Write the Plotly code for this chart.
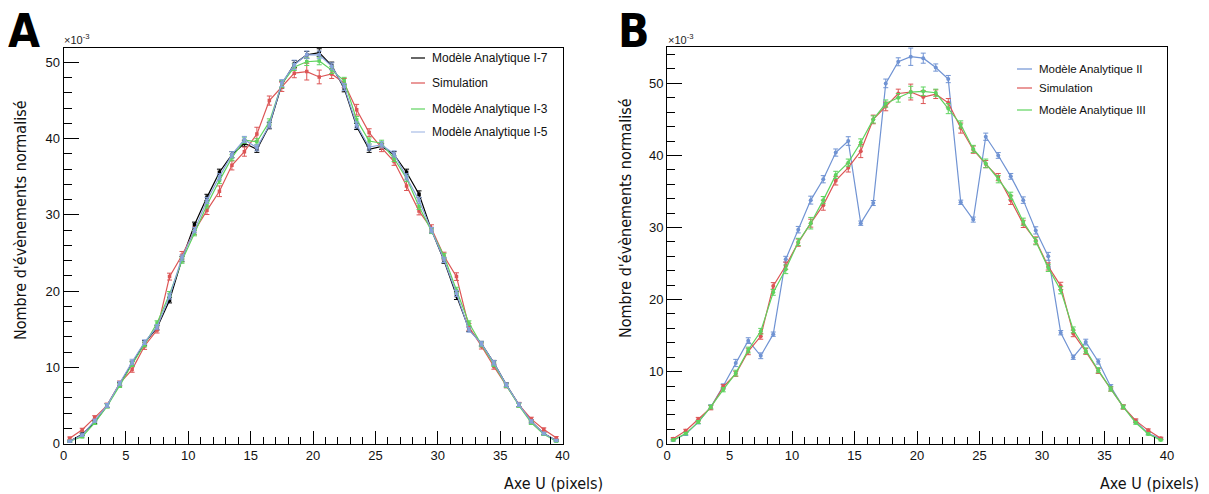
import plotly.graph_objects as go

# the page body has an 8px margin: the figure covers the window from (8, 8)
OFF = 8
W, H = 1209 - OFF, 494 - OFF

# ---------------- data ----------------
bins = [i + 0.5 for i in range(40)]

simulation = [0.7, 1.8, 3.4, 5.0, 7.9, 9.7, 12.8, 14.9, 21.9, 24.7,
              27.9, 30.6, 33.1, 36.5, 38.3, 40.6, 45.0, 46.8, 48.6, 48.8,
              48.1, 48.5, 47.3, 43.8, 40.8, 38.8, 37.0, 33.8, 30.5, 28.2,
              24.6, 21.9, 15.3, 12.8, 10.1, 7.6, 5.1, 3.2, 1.85, 0.75]
err_simulation = [0.15, 0.2, 0.25, 0.3, 0.3, 0.35, 0.45, 0.4, 0.45, 0.5,
                  0.5, 0.55, 0.7, 0.6, 0.6, 0.9, 0.6, 0.6, 0.6, 1.1,
                  0.9, 0.6, 0.6, 0.7, 0.5, 0.5, 0.5, 0.6, 0.5, 0.5,
                  0.5, 0.5, 0.45, 0.4, 0.35, 0.3, 0.3, 0.25, 0.2, 0.15]

model_I7 = [0.3, 1.2, 2.8, 5.0, 7.8, 10.5, 13.2, 15.2, 18.8, 24.2,
            28.7, 32.3, 35.6, 37.9, 39.4, 38.6, 41.7, 47.1, 49.8, 51.0,
            51.3, 49.6, 46.6, 41.6, 38.6, 39.0, 37.9, 35.6, 32.7, 28.0,
            24.0, 19.4, 15.0, 13.1, 10.6, 7.7, 5.1, 2.9, 1.3, 0.4]
err_I7 = [0.1, 0.15, 0.2, 0.25, 0.25, 0.3, 0.3, 0.3, 0.35, 0.35,
          0.35, 0.4, 0.4, 0.4, 0.4, 0.4, 0.4, 0.45, 0.45, 0.45,
          0.5, 0.45, 0.45, 0.4, 0.4, 0.4, 0.4, 0.4, 0.45, 0.35,
          0.35, 0.5, 0.3, 0.3, 0.3, 0.25, 0.25, 0.2, 0.15, 0.1]

model_I3 = [0.3, 0.9, 2.7, 4.9, 7.6, 10.4, 13.0, 15.8, 19.6, 24.0,
            27.6, 31.3, 34.5, 37.5, 39.8, 39.6, 42.2, 47.2, 49.4, 50.1,
            50.2, 49.0, 47.6, 42.5, 39.7, 39.4, 37.4, 34.8, 31.1, 27.9,
            24.6, 20.1, 15.8, 13.0, 10.4, 7.6, 5.0, 2.7, 1.2, 0.3]
err_I3 = [0.1, 0.15, 0.2, 0.25, 0.25, 0.3, 0.3, 0.3, 0.35, 0.35,
          0.35, 0.4, 0.4, 0.4, 0.4, 0.4, 0.4, 0.45, 0.45, 0.5,
          0.5, 0.45, 0.45, 0.4, 0.4, 0.4, 0.4, 0.4, 0.4, 0.35,
          0.35, 0.4, 0.3, 0.3, 0.3, 0.25, 0.25, 0.2, 0.15, 0.1]

model_I5 = [0.3, 1.1, 3.0, 5.0, 7.9, 10.7, 13.3, 15.3, 19.3, 24.4,
            28.0, 31.9, 35.0, 37.9, 39.9, 38.8, 41.8, 47.3, 49.7, 51.0,
            51.0, 49.5, 46.8, 41.8, 38.9, 39.2, 38.0, 35.0, 31.9, 28.0,
            24.1, 19.7, 14.9, 13.1, 10.6, 7.7, 5.1, 2.9, 1.3, 0.4]
err_I5 = [0.1, 0.15, 0.2, 0.25, 0.25, 0.35, 0.3, 0.3, 0.35, 0.35,
          0.35, 0.4, 0.4, 0.4, 0.4, 0.4, 0.4, 0.45, 0.6, 0.5,
          0.5, 0.45, 0.45, 0.4, 0.4, 0.4, 0.4, 0.4, 0.4, 0.35,
          0.35, 0.4, 0.3, 0.3, 0.3, 0.25, 0.25, 0.2, 0.15, 0.1]

model_II = [0.5, 1.35, 3.0, 5.1, 8.0, 11.2, 14.3, 12.2, 15.2, 25.6,
            29.7, 33.8, 36.7, 40.4, 42.0, 30.6, 33.4, 50.0, 53.0, 53.7,
            53.5, 52.2, 50.6, 33.5, 31.1, 42.6, 40.0, 37.1, 33.8, 29.6,
            26.0, 15.4, 12.0, 14.1, 11.4, 7.9, 5.1, 3.1, 1.4, 0.7]
err_II = [0.15, 0.2, 0.25, 0.3, 0.3, 0.5, 0.4, 0.4, 0.3, 0.4,
          0.45, 0.55, 0.5, 0.5, 0.6, 0.3, 0.35, 0.6, 0.55, 1.2,
          0.7, 0.5, 0.5, 0.3, 0.35, 0.5, 0.4, 0.4, 0.45, 0.5,
          0.55, 0.3, 0.3, 0.4, 0.35, 0.3, 0.25, 0.2, 0.15, 0.1]

model_III = [0.5, 1.4, 3.0, 5.1, 7.5, 9.8, 13.0, 15.6, 21.0, 24.2,
             28.0, 30.6, 33.8, 37.3, 39.0, 41.8, 45.0, 47.2, 48.0, 48.8,
             48.9, 48.7, 46.5, 44.3, 40.9, 38.9, 36.7, 34.4, 30.8, 28.1,
             24.4, 21.3, 15.8, 12.9, 10.2, 7.6, 5.1, 2.9, 1.35, 0.5]
err_III = [0.1, 0.15, 0.2, 0.25, 0.3, 0.4, 0.4, 0.4, 0.4, 0.6,
           0.5, 0.8, 0.5, 0.5, 0.5, 0.5, 0.5, 0.5, 0.6, 0.8,
           0.6, 0.5, 0.7, 0.5, 0.5, 0.6, 0.5, 0.5, 0.5, 0.5,
           0.5, 0.5, 0.4, 0.4, 0.35, 0.3, 0.25, 0.2, 0.15, 0.1]

legend_A = ["Modèle Analytique I-7", "Simulation", "Modèle Analytique I-3", "Modèle Analytique I-5"]
legend_B = ["Modèle Analytique II", "Simulation", "Modèle Analytique III"]

x_ticks = [0, 5, 10, 15, 20, 25, 30, 35, 40]
y_ticks = [0, 10, 20, 30, 40, 50]

# ---------------- style ----------------
BLACK = "#000000"
RED = "#dc5555"
GREEN = "#5ed35e"
BLUE_A = "#86a2da"
BLUE_B = "#7093d3"

def px(x):
    return (x - OFF) / W

def py(y):
    return 1 - (y - OFF) / H

fig = go.Figure()

def add_series(x, y, e, color, name, xa, ya, symbol, size):
    fig.add_trace(go.Scatter(
        x=x, y=y, mode="lines+markers", name=name,
        xaxis=xa, yaxis=ya, showlegend=False,
        line=dict(color=color, width=1.2),
        marker=dict(color=color, size=size, symbol=symbol),
        error_y=dict(type="data", array=e, visible=True, color=color,
                     thickness=1, width=2.5),
    ))

add_series(bins, model_I7, err_I7, BLACK, legend_A[0], "x", "y", "square", 3.5)
add_series(bins, simulation, err_simulation, RED, legend_A[1], "x", "y", "square", 3.5)
add_series(bins, model_I3, err_I3, GREEN, legend_A[2], "x", "y", "square", 3.5)
add_series(bins, model_I5, err_I5, BLUE_A, legend_A[3], "x", "y", "square", 3.5)

add_series(bins, model_II, err_II, BLUE_B, legend_B[0], "x2", "y2", "circle", 4)
add_series(bins, simulation, err_simulation, RED, legend_B[1], "x2", "y2", "circle", 4)
add_series(bins, model_III, err_III, GREEN, legend_B[2], "x2", "y2", "circle", 4)

tickfont = dict(family="Liberation Sans, Arial, sans-serif", size=13, color="#111")

def xaxis_cfg(domain, anchor):
    return dict(domain=domain, anchor=anchor, range=[0, 40], automargin=False,
                tickvals=x_ticks, ticks="inside", ticklen=13, tickwidth=1,
                tickcolor="#000",
                minor=dict(dtick=1, ticks="inside", ticklen=7, tickcolor="#000"),
                showline=True, linecolor="#000", linewidth=1, mirror=True,
                showgrid=False, zeroline=False, tickfont=tickfont)

def yaxis_cfg(domain, anchor, top):
    return dict(domain=domain, anchor=anchor, range=[0, top], automargin=False,
                tickvals=y_ticks, ticks="inside", ticklen=15, tickwidth=1,
                tickcolor="#000",
                minor=dict(dtick=2, ticks="inside", ticklen=8, tickcolor="#000"),
                showline=True, linecolor="#000", linewidth=1, mirror=True,
                showgrid=False, zeroline=False, tickfont=tickfont)

fig.update_layout(
    template="none",
    width=W, height=H,
    margin=dict(l=0, r=0, t=0, b=0, pad=0),
    paper_bgcolor="white", plot_bgcolor="white",
    showlegend=False,
    xaxis=xaxis_cfg([px(63.5), px(562.5)], "y"),
    yaxis=yaxis_cfg([py(443.5), py(48)], "x", 51.9),
    xaxis2=xaxis_cfg([px(667), px(1167)], "y2"),
    yaxis2=yaxis_cfg([py(443.7), py(47)], "x2", 55.05),
)

ann = []
shapes = []

# panel letters
for letter, xc in (("A", 23.5), ("B", 634)):
    ann.append(dict(x=px(xc), y=py(31), xref="paper", yref="paper", text=letter,
                    showarrow=False, xanchor="center", yanchor="middle",
                    font=dict(family="DejaVu Sans Condensed, DejaVu Sans", size=46,
                              color="#000", weight="bold")))

# x10^-3
for xl in (62, 666):
    ann.append(dict(x=px(xl), y=py(48), xref="paper", yref="paper",
                    text="×10<sup>-3</sup>", showarrow=False, xanchor="left", yanchor="bottom",
                    font=dict(family="Liberation Sans, Arial", size=11, color="#222")))

# axis titles
titlefont = dict(family="DejaVu Sans Condensed, DejaVu Sans, sans-serif", size=16,
                 color="#111")
for xr in (605, 1201):
    ann.append(dict(x=px(xr), y=py(483), xref="paper", yref="paper", text="Axe U (pixels)",
                    showarrow=False, xanchor="right", yanchor="middle", font=titlefont))
for xc, yt in ((21, 98), (625, 96)):
    ann.append(dict(x=px(xc), y=py(yt), xref="paper", yref="paper",
                    text="Nombre d'évènements normalisé", textangle=-90,
                    showarrow=False, xanchor="center", yanchor="top", font=titlefont))

# legends (drawn manually)
legfontA = dict(family="Liberation Sans, Arial", size=12, color="#111")
legfontB = dict(family="Liberation Sans, Arial", size=11.5, color="#111")
for name, col, yy in zip(legend_A, [BLACK, RED, GREEN, "#a9bde6"], [58, 83, 109, 132]):
    shapes.append(dict(type="line", xref="paper", yref="paper",
                       x0=px(411), x1=px(425), y0=py(yy), y1=py(yy),
                       line=dict(color=col, width=1.2)))
    ann.append(dict(x=px(430), y=py(yy), xref="paper", yref="paper", text=name,
                    showarrow=False, xanchor="left", yanchor="middle", font=legfontA))
for name, col, yy in zip(legend_B, [BLUE_B, RED, GREEN], [69, 88, 110]):
    shapes.append(dict(type="line", xref="paper", yref="paper",
                       x0=px(1017), x1=px(1032), y0=py(yy), y1=py(yy),
                       line=dict(color=col, width=1.2)))
    ann.append(dict(x=px(1037), y=py(yy), xref="paper", yref="paper", text=name,
                    showarrow=False, xanchor="left", yanchor="middle", font=legfontB))

fig.update_layout(annotations=ann, shapes=shapes)
fig.write_html("out.html")
